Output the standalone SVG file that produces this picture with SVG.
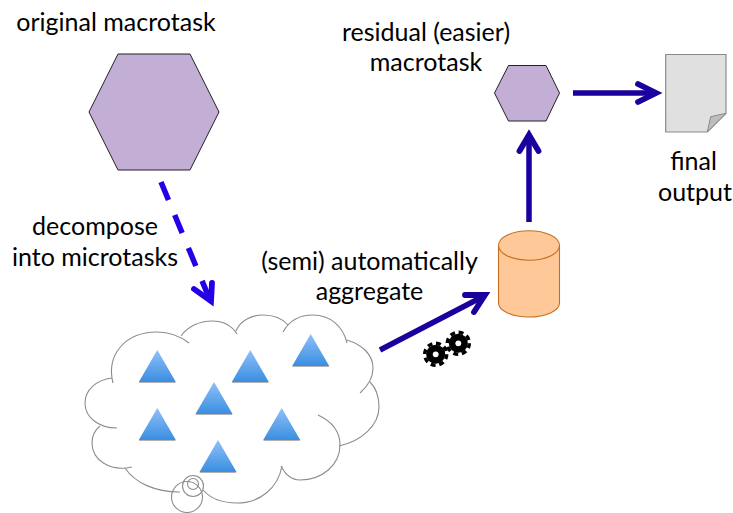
<svg xmlns="http://www.w3.org/2000/svg" width="733" height="513" viewBox="0 0 733 513">
<style>
text{font-family:"Lato","Carlito","Liberation Sans",sans-serif;font-size:25px;fill:#000;text-anchor:middle}
.arrow{fill:none;stroke:#1b009e;stroke-width:5.500}
.head{fill:none;stroke:#1b009e;stroke-width:5.800;stroke-linecap:round;stroke-linejoin:miter}
.bright{stroke:#2400e6}
.hex{fill:#c3aed6;stroke:#222;stroke-width:1}
.lobe{fill:none;stroke:#8c8c8c;stroke-width:1.100}
.can{fill:#ffc898;stroke:#c56f20;stroke-width:1.100}
.tri{fill:url(#triGrad);filter:url(#sh)}
</style>
<defs>
<linearGradient id="triGrad" x1="0" y1="0" x2="0" y2="1"><stop offset="0" stop-color="#90c0fa"/><stop offset="1" stop-color="#3a8ee0"/></linearGradient>
<filter id="sh" x="-20%" y="-20%" width="140%" height="140%"><feDropShadow dx="0" dy="1" stdDeviation="0.7" flood-color="#000" flood-opacity="0.3"/></filter>
<polygon id="t" points="0,0 18.500,32 -18.500,32"/>
<g id="gear"><circle r="9.500" fill="#000"/><circle r="11" fill="none" stroke="#000" stroke-width="3.500" stroke-dasharray="4.900 3.740"/><circle r="2.900" fill="#fff"/></g>
</defs>
<g id="connectors">
<path class="arrow bright" d="M161,182 L210,300" stroke-dasharray="19.500 16.200"/>
<path class="head bright" d="M194,289 L211,301 L212,283"/>
<path class="arrow" d="M380,350 L484,296"/>
<path class="head" d="M465,295 L485,295 L474,312"/>
<path class="arrow" d="M529,222 L529,138"/>
<path class="head" d="M519.500,151 L529,135 L538.500,151"/>
<path class="arrow" d="M573,93 L654,93"/>
<path class="head" d="M638,84 L656,93 L638,102"/>
</g>
<g id="macrotask"><polygon class="hex" points="89,112 118,54 190,54 219,112 190,170 118,170"/><text x="116" y="31">original macrotask</text></g>
<g id="residual"><polygon class="hex" points="494.500,93 508.500,65.500 546,65.500 559.500,93 546,121 508.500,121"/><text x="426" y="41">residual (easier)</text><text x="426" y="71">macrotask</text></g>
<g id="output"><path d="M665.700,54.500 H726 V113.300 L707.300,132 H665.700 Z" fill="#e0e0e0" stroke="#8a8a8a" stroke-width="1.200"/><path d="M707.300,132 L710.700,116.700 L726,113.300 Z" fill="#bdbdbd" stroke="#8a8a8a" stroke-width="1"/><text x="693.500" y="170">final</text><text x="695" y="201">output</text></g>
<g id="store"><path class="can" d="M498.500,245.500 V303 A30.500,14 0 0 0 559.500,303 V245.500 Z"/><ellipse class="can" cx="529" cy="245.500" rx="30.500" ry="14.700"/></g>
<g id="labels"><text x="95" y="235">decompose</text><text x="95" y="266">into microtasks</text><text x="369.500" y="270">(semi) automatically</text><text x="369.500" y="300">aggregate</text></g>
<g id="gears"><use href="#gear" x="435.700" y="354.300"/><use href="#gear" x="458.300" y="343.300"/></g>
<g id="cloud">
<path fill="#fff" d="M112,378 C106,355 125,332 157,332 C170,332 176,333 181,336 C188,326 200,321 212,321 C223,321 232,326 237,332 C240,321 251,315 263,315 C273,315 280,320 285,328 C289,321 300,315 313,315 C330,315 343,326 347,340 C363,345 373,355 373,368 C373,375 372,378 370,382 C376,388 379,397 379,407 C379,425 362,441 340,445 C340,465 322,480 300,480 C291,480 285,474 282,466 C278,488 260,503 237,503 C222,503 210,498 203,490 L180,492 C155,492 135,483 125,468 C110,472 92,460 92,443 C92,436 95,430 100,426 C92,420 85,412 85,403 C85,390 96,380 112,378 Z"/>
<path class="lobe" d="M113,383 C106,355 125,332 157,332 C170,332 180,336 189,343"/>
<path class="lobe" d="M181,336 C188,326 200,321 212,321 C223,321 232,326 237,334"/>
<path class="lobe" d="M236,331 C240,321 251,315 263,315 C273,315 282,318 288,325"/>
<path class="lobe" d="M283,332 C289,321 300,315 313,315 C330,315 343,326 347,343"/>
<path class="lobe" d="M347,340 C363,345 373,355 373,368 C373,378 368,386 360,393"/>
<path class="lobe" d="M370,382 C376,388 379,397 379,407 C379,425 362,441 339,446"/>
<path class="lobe" d="M318,415 C333,422 340,432 340,445 C340,465 322,480 300,480 C291,480 285,474 281,466"/>
<path class="lobe" d="M282,466 C278,488 260,503 237,503 C222,503 210,498 203,490"/>
<path class="lobe" d="M180,492 C155,492 135,483 125,468"/>
<path class="lobe" d="M132,467 C110,472 92,460 92,443 C92,436 95,430 100,426"/>
<path class="lobe" d="M117,428 C98,428 85,417 85,403 C85,390 96,380 112,378"/>
<circle class="lobe" cx="187" cy="497" r="15.500"/><circle class="lobe" cx="193" cy="486" r="10.500"/><circle class="lobe" cx="193" cy="484" r="5.500"/>
</g>
<g id="microtasks">
<use href="#t" class="tri" x="157.300" y="350"/><use href="#t" class="tri" x="250.300" y="350"/><use href="#t" class="tri" x="310.700" y="334"/><use href="#t" class="tri" x="214" y="382"/><use href="#t" class="tri" x="157.300" y="408"/><use href="#t" class="tri" x="281.700" y="408"/><use href="#t" class="tri" x="218" y="440"/>
</g>
</svg>
